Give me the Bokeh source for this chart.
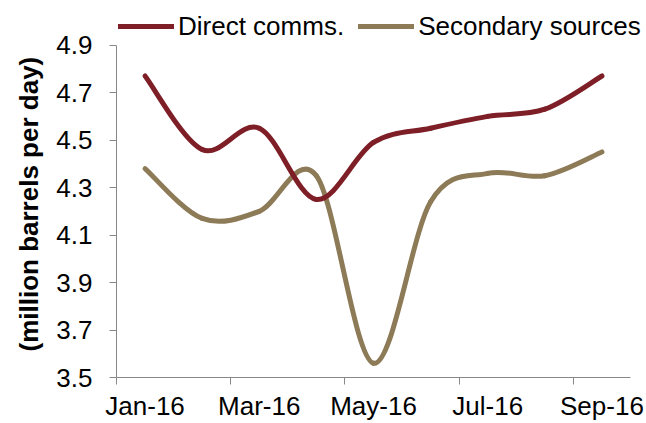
import numpy as np
from bokeh.plotting import figure
from bokeh.models import (FixedTicker, Range1d, Legend, LegendItem, ColumnDataSource,
                          NumeralTickFormatter, Title)
from bokeh.embed import file_html
from bokeh.resources import INLINE

# ---- data ----
months = ["Jan-16", "Feb-16", "Mar-16", "Apr-16", "May-16", "Jun-16", "Jul-16", "Aug-16", "Sep-16"]
direct_comms = [4.77, 4.46, 4.55, 4.25, 4.49, 4.55, 4.60, 4.63, 4.77]
secondary_sources = [4.38, 4.17, 4.20, 4.35, 3.56, 4.24, 4.36, 4.35, 4.45]
y_ticks = [3.5, 3.7, 3.9, 4.1, 4.3, 4.5, 4.7, 4.9]
x_labels = ["Jan-16", "Mar-16", "May-16", "Jul-16", "Sep-16"]
y_title = "(million barrels per day)"

FONT = "Liberation Sans"
AXIS_COLOR = "#888888"
RED = "#7E1F27"
TAN = "#8D7A57"

# month i is centred between its boundary ticks (category axis, between tick marks)
xpos = np.arange(len(months)) + 0.5
n_months = len(months)


def smooth_segments(xs, ys):
    """Bezier control points for a smoothed line through the points (Excel-like)."""
    xs = np.asarray(xs, float)
    ys = np.asarray(ys, float)
    n = len(xs)
    d = dict(x0=[], y0=[], x1=[], y1=[], cx0=[], cy0=[], cx1=[], cy1=[])
    for i in range(n - 1):
        ip = max(i - 1, 0)
        inn = min(i + 2, n - 1)
        d["x0"].append(xs[i]); d["y0"].append(ys[i])
        d["x1"].append(xs[i + 1]); d["y1"].append(ys[i + 1])
        d["cx0"].append(xs[i] + (xs[i + 1] - xs[ip]) / 6.0)
        d["cy0"].append(ys[i] + (ys[i + 1] - ys[ip]) / 6.0)
        d["cx1"].append(xs[i + 1] - (xs[inn] - xs[i]) / 6.0)
        d["cy1"].append(ys[i + 1] - (ys[inn] - ys[i]) / 6.0)
    return ColumnDataSource(d)


# frame covers the whole top/right area so the legend (above the axes) is not clipped;
# the axis lines are limited to the data extent with `bounds`
p = figure(width=646, height=423,
           x_range=Range1d(0, 9.28), y_range=Range1d(3.5, 5.088),
           output_backend="svg", toolbar_location=None,
           min_border_left=116, min_border_right=0,
           min_border_top=0, min_border_bottom=43)
p.outline_line_color = None
p.grid.grid_line_color = None
p.background_fill_color = "white"
p.border_fill_color = "white"

r_sec = p.bezier(x0="x0", y0="y0", x1="x1", y1="y1", cx0="cx0", cy0="cy0",
                 cx1="cx1", cy1="cy1", source=smooth_segments(xpos, secondary_sources),
                 line_color=TAN, line_width=5, line_cap="round")
r_dir = p.bezier(x0="x0", y0="y0", x1="x1", y1="y1", cx0="cx0", cy0="cy0",
                 cx1="cx1", cy1="cy1", source=smooth_segments(xpos, direct_comms),
                 line_color=RED, line_width=5, line_cap="round")

# x axis: labels at month centres, tick marks at every second month boundary
label_pos = [float(xpos[months.index(m)]) for m in x_labels]
xax = p.xaxis[0]
xax.ticker = FixedTicker(ticks=label_pos, minor_ticks=[v - 0.5 for v in label_pos])
xax.major_label_overrides = {v: m for v, m in zip(label_pos, x_labels)}
xax.bounds = (0, n_months)
xax.major_tick_out = 0
xax.major_tick_in = 0
xax.minor_tick_out = 7
xax.minor_tick_in = 0
xax.minor_tick_line_color = AXIS_COLOR
xax.axis_line_color = AXIS_COLOR
xax.major_label_text_font = FONT
xax.major_label_text_font_size = "26px"
xax.major_label_text_color = "black"
xax.major_label_standoff = 6

yax = p.yaxis[0]
yax.ticker = FixedTicker(ticks=y_ticks, minor_ticks=[])
yax.formatter = NumeralTickFormatter(format="0.0")
yax.bounds = (y_ticks[0], y_ticks[-1])
yax.major_tick_out = 7
yax.major_tick_in = 0
yax.minor_tick_out = 0
yax.minor_tick_in = 0
yax.major_tick_line_color = AXIS_COLOR
yax.axis_line_color = AXIS_COLOR
yax.major_label_text_font = FONT
yax.major_label_text_font_size = "26px"
yax.major_label_text_color = "black"
yax.major_label_standoff = 17

# y axis title, placed along the axis extent (not the taller frame)
p.add_layout(Title(text=y_title, align="left", offset=26, standoff=20,
                   text_font=FONT, text_font_size="26px", text_font_style="bold",
                   text_color="black"), "left")

legend = Legend(items=[LegendItem(label="Direct comms.", renderers=[r_dir]),
                       LegendItem(label="Secondary sources", renderers=[r_sec])],
                orientation="horizontal", location=(2, 332),
                glyph_width=56, glyph_height=38, label_height=38,
                label_standoff=4, spacing=14, padding=0, margin=0,
                border_line_color=None, background_fill_alpha=0,
                label_text_font=FONT, label_text_font_size="26px",
                label_text_color="black")
p.add_layout(legend)

open("out.html", "w").write(file_html(p, INLINE))
